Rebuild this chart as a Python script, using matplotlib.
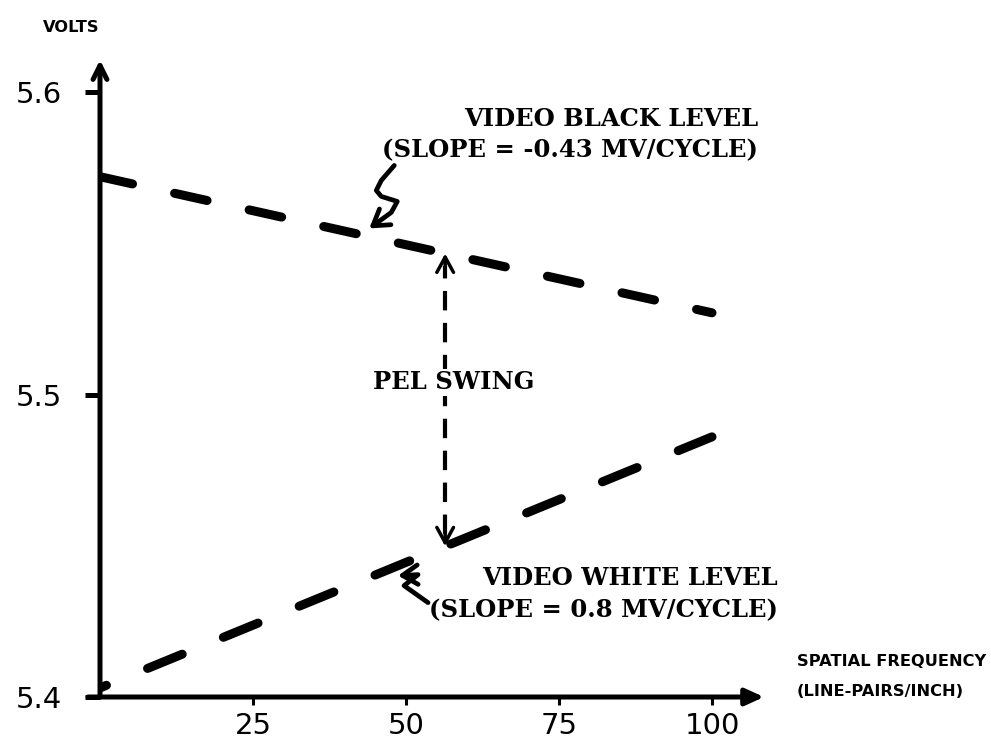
import numpy as np
import matplotlib.pyplot as plt
from matplotlib import font_manager
from matplotlib.patches import FancyArrowPatch
from matplotlib.path import Path

plt.rcParams['lines.scale_dashes'] = False

# data
freq = [0, 100]                    # line-pairs / inch
black_level = [5.572, 5.527]       # volts
white_level = [5.403, 5.486]       # volts
swing_freq = 56.4
xticks = [25, 50, 75, 100]
yticks = [5.4, 5.5, 5.6]
ytick_labels = ['5.4', '5.5', '5.6']

# layout (pixels of the 991x743 picture)
W, H = 991, 743
PX_X = 6.12        # pixels per line-pair/inch
PX_V = 3025.0      # pixels per volt
xlim = (0, 108.5)
ylim = (5.4, 5.6106)

fig = plt.figure(figsize=(W / 100, H / 100), dpi=100)
ax = fig.add_axes([100 / W, (H - 697) / H,
                   (xlim[1] - xlim[0]) * PX_X / W,
                   (ylim[1] - ylim[0]) * PX_V / H])
ax.set_xlim(*xlim)
ax.set_ylim(*ylim)
for s in ax.spines.values():
    s.set_visible(False)

# axes with arrow heads
ax.annotate('', xy=(1.0, 0), xytext=(-0.018, 0), xycoords='axes fraction',
            arrowprops=dict(arrowstyle='-|>,head_length=1.1,head_width=0.5',
                            lw=3.6, color='k', shrinkA=0, shrinkB=0),
            annotation_clip=False)
ax.annotate('', xy=(0, 1.0), xytext=(0, 0), xycoords='axes fraction',
            arrowprops=dict(arrowstyle='->,head_length=1.0,head_width=0.5',
                            lw=3.6, color='k', shrinkA=0, shrinkB=0),
            annotation_clip=False)

tick_font = dict(family='DejaVu Sans', size=21)
ax.set_xticks(xticks)
ax.set_xticklabels([str(t) for t in xticks], fontdict=tick_font)
ax.set_yticks(yticks)
ax.set_yticklabels(ytick_labels, fontdict=tick_font)
ax.tick_params(axis='x', direction='out', length=6, width=2.2, pad=5)
ax.tick_params(axis='y', direction='out', length=11, width=3.6, pad=16)

# the two levels
ax.plot(freq, black_level, color='k', lw=6.5, solid_capstyle='round',
        dash_capstyle='round', linestyle=(0, (24, 31)))
ax.plot(freq, white_level, color='k', lw=6.5, solid_capstyle='round',
        dash_capstyle='round', linestyle=(22, (27, 32)))

# pel swing arrow
top = np.interp(swing_freq, freq, black_level)
bot = np.interp(swing_freq, freq, white_level)
ax.plot([swing_freq, swing_freq], [bot + 0.004, top - 0.004], color='k',
        lw=3, linestyle=(0, (14, 9)))
for y, dy in [(top, -14), (bot, 14)]:
    ax.annotate('', xy=(swing_freq, y), xytext=(0, dy),
                textcoords='offset points',
                arrowprops=dict(arrowstyle='->,head_length=0.55,head_width=0.3',
                                lw=2.5, color='k', shrinkA=0, shrinkB=0,
                                mutation_scale=20))

serif = dict(family='DejaVu Serif', weight='bold', size=17.5)
ax.text(57.8, 5.5041, 'PEL SWING', ha='center', va='center', **serif,
        bbox=dict(facecolor='white', edgecolor='none', pad=1))

ax.text(107.5, 5.5911, 'VIDEO BLACK LEVEL', ha='right', va='center', **serif)
ax.text(107.5, 5.5808, '(SLOPE = -0.43 MV/CYCLE)', ha='right', va='center', **serif)
ax.text(110.8, 5.4393, 'VIDEO WHITE LEVEL', ha='right', va='center', **serif)
ax.text(110.8, 5.4288, '(SLOPE = 0.8 MV/CYCLE)', ha='right', va='center', **serif)


# squiggly leader arrows, shapes given as pixel offsets from the tip
def squiggle(tip, offsets):
    pts = [(tip[0] + dx / PX_X, tip[1] + dy / PX_V) for dx, dy in offsets]
    arr = FancyArrowPatch(path=Path(pts),
                          arrowstyle='->,head_length=0.55,head_width=0.35',
                          mutation_scale=20, lw=3.4, color='k',
                          joinstyle='round', capstyle='round', clip_on=False)
    ax.add_patch(arr)


bx = 44.0
squiggle((bx, np.interp(bx, freq, black_level) + 0.0027),
         [(25, 63), (12, 48), (7, 38), (12, 32), (28, 27), (22, 16), (0, 0)])
wx = 48.7
squiggle((wx, np.interp(wx, freq, white_level) - 0.0033),
         [(30, -27), (6, -10), (20, 1), (0, 0)])

# bold condensed lettering for the axis names
names = {f.name for f in font_manager.fontManager.ttflist}
if 'Liberation Sans Narrow' in names:
    cond = dict(family='Liberation Sans Narrow', weight='bold', size=15)
else:
    cond = dict(family='DejaVu Sans', weight='bold', size=11.7)
fig.text(797 / W, 1 - 662 / H, 'SPATIAL FREQUENCY', ha='left', va='center', **cond)
fig.text(797 / W, 1 - 692 / H, '(LINE-PAIRS/INCH)', ha='left', va='center', **cond)
fig.text(43 / W, 1 - 27 / H, 'VOLTS', ha='left', va='center', **cond)

plt.savefig('out.png', dpi=100)
